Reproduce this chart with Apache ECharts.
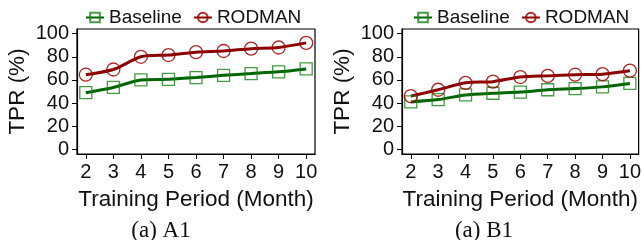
<!DOCTYPE html>
<html>
<head>
<meta charset="utf-8">
<script src="https://cdn.jsdelivr.net/npm/echarts@6/dist/echarts.min.js"></script>
<style>
  html, body { margin: 0; padding: 0; background: #fff; }
  #chart { width: 644px; height: 240px; }
</style>
</head>
<body>
<div id="chart"></div>
<script>
// training period (months)
const months = [2, 3, 4, 5, 6, 7, 8, 9, 10];
const yTicks = [0, 20, 40, 60, 80, 100];

// TPR (%) per panel
const a1Baseline = [49, 53.5, 60, 60.5, 62, 64, 65.5, 67, 69.5];
const a1Rodman   = [64.5, 69, 80, 81.5, 84, 85, 87, 88, 92];
const b1Baseline = [41, 43, 47, 48.5, 49.5, 51.5, 52.5, 54, 57];
const b1Rodman   = [46, 51.5, 57.5, 58.5, 62.5, 63.5, 64.5, 65, 68];

const captions = ['(a) A1', '(a) B1'];

const FONT = 'Liberation Sans';
const GREEN = '#006400';
const RED = '#8b0000';

const panels = [
  { left: 77, legendLeft: 80, captionX: 161, baseline: a1Baseline, rodman: a1Rodman },
  { left: 402, legendLeft: 408, captionX: 484, baseline: b1Baseline, rodman: b1Rodman }
];

const chart = echarts.init(document.getElementById('chart'));

const grids = panels.map(p => ({
  left: p.left, top: 29, width: 238, height: 125,
  show: true, borderColor: '#000', borderWidth: 1.2
}));

const xAxes = panels.map((p, i) => ({
  type: 'value', gridIndex: i, min: 1.68, max: 10.32,
  name: 'Training Period (Month)', nameLocation: 'middle', nameGap: 34,
  nameTextStyle: { fontFamily: FONT, fontSize: 22.5, color: '#111' },
  axisLine: { show: true, onZero: false, lineStyle: { color: '#000', width: 1.2 } },
  axisTick: { show: true, length: 5, customValues: months, lineStyle: { color: '#000' } },
  axisLabel: { customValues: months, margin: 8, fontFamily: FONT, fontSize: 20, color: '#111' },
  splitLine: { show: false }
}));

const yAxes = panels.map((p, i) => ({
  type: 'value', gridIndex: i, min: -4, max: 104,
  name: 'TPR (%)', nameLocation: 'middle', nameGap: 48,
  nameTextStyle: { fontFamily: FONT, fontSize: 22.5, color: '#111' },
  axisLine: { show: true, onZero: false, lineStyle: { color: '#000', width: 1.2 } },
  axisTick: { show: true, length: 5, customValues: yTicks, lineStyle: { color: '#000' } },
  axisLabel: { customValues: yTicks, margin: 8, fontFamily: FONT, fontSize: 20, color: '#111' },
  splitLine: { show: false }
}));

const series = [];
panels.forEach((p, i) => {
  series.push({
    name: 'Baseline', type: 'line', xAxisIndex: i, yAxisIndex: i,
    data: months.map((m, k) => [m, p.baseline[k]]),
    smooth: 0.25, symbol: 'rect', symbolSize: 12,
    lineStyle: { color: GREEN, width: 3 },
    itemStyle: { color: 'rgba(0,0,0,0)', borderColor: 'rgba(20,130,20,0.8)', borderWidth: 1.3 },
    z: 3
  });
  series.push({
    name: 'RODMAN', type: 'line', xAxisIndex: i, yAxisIndex: i,
    data: months.map((m, k) => [m, p.rodman[k]]),
    smooth: 0.25, symbol: 'circle', symbolSize: 13,
    lineStyle: { color: RED, width: 3 },
    itemStyle: { color: 'rgba(0,0,0,0)', borderColor: 'rgba(160,0,0,0.85)', borderWidth: 1.3 },
    z: 3
  });
});

// one legend above each panel
const legends = panels.map(p => ({
  left: p.legendLeft, top: 3, orient: 'horizontal',
  itemWidth: 18, itemHeight: 12, itemGap: 11,
  textStyle: { fontFamily: FONT, fontSize: 19, color: '#111' },
  data: ['Baseline', 'RODMAN'],
  selectedMode: false
}));

chart.setOption({
  animation: false,
  grid: grids,
  xAxis: xAxes,
  yAxis: yAxes,
  legend: legends,
  series: series,
  graphic: panels.map((p, i) => ({
    type: 'text', x: p.captionX, y: 219,
    style: { text: captions[i], font: '23px "Liberation Serif"', fill: '#111', align: 'center' }
  }))
});
</script>
</body>
</html>
